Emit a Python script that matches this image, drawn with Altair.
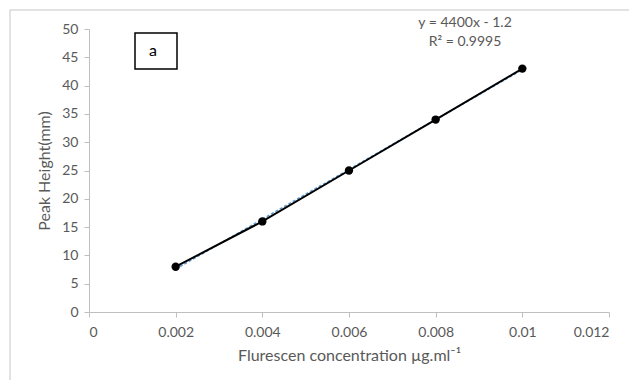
import altair as alt
import pandas as pd

conc = [0.002, 0.004, 0.006, 0.008, 0.01]
peak = [8, 16, 25, 34, 43]
x_ticks = [0, 0.002, 0.004, 0.006, 0.008, 0.01, 0.012]
y_ticks = [0, 5, 10, 15, 20, 25, 30, 35, 40, 45, 50]
eq_line1 = "y = 4400x - 1.2"
eq_line2 = "R² = 0.9995"

df = pd.DataFrame({"x": conc, "y": peak})
FONT = "Lato"
GRAY = "#595959"

xenc = alt.X("x:Q", scale=alt.Scale(domain=[0, 0.012]),
             axis=alt.Axis(values=x_ticks, title="Flurescen concentration µg.ml⁻¹",
                           labelExpr="datum.value == 0 ? '0' : format(datum.value, '')",
                           grid=False, domainColor="#bfbfbf", tickColor="#bfbfbf",
                           tickSize=5, labelPadding=8, titlePadding=8))
yenc = alt.Y("y:Q", scale=alt.Scale(domain=[0, 50]),
             axis=alt.Axis(values=y_ticks, title="Peak Height(mm)", grid=False,
                           domainColor="#bfbfbf", tickColor="#bfbfbf", tickSize=5,
                           labelPadding=6, titlePadding=9))

base = alt.Chart(df)
one = base.transform_filter("datum.x == 0.002")

frame = one.mark_rect(fill="transparent", stroke="#d9d9d9", strokeWidth=1.5).encode(
    x=alt.value(-79), x2=alt.value(580), y=alt.value(-19), y2=alt.value(400)
)

trend = base.mark_line(color="#5b9bd5", strokeDash=[3, 2], strokeWidth=1.5).encode(
    x=xenc, y=yenc
).transform_regression("x", "y", extent=[0.002, 0.01])

line = base.mark_line(color="black", strokeWidth=2).encode(x=xenc, y=yenc)
pts = base.mark_circle(color="black", size=70, opacity=1).encode(x=xenc, y=yenc)

box = one.mark_rect(fill="white", stroke="black", strokeWidth=1.5).encode(
    x=alt.value(46), x2=alt.value(88), y=alt.value(4), y2=alt.value(40)
)
box_text = one.mark_text(text="a", font=FONT, fontSize=16, color="black").encode(
    x=alt.value(64), y=alt.value(22)
)

eq1 = one.mark_text(text=eq_line1, font=FONT, fontSize=14, color=GRAY).encode(
    x=alt.value(376), y=alt.value(-6)
)
eq2 = one.mark_text(text=eq_line2, font=FONT, fontSize=14, color=GRAY).encode(
    x=alt.value(376), y=alt.value(13)
)

chart = alt.layer(frame, trend, line, pts, box, box_text, eq1, eq2).properties(
    width=520, height=283,
    autosize=alt.AutoSizeParams(type="none"),
    padding={"left": 81, "top": 21, "right": 20, "bottom": 68},
).configure_view(stroke=None).configure_axis(
    labelFont=FONT, titleFont=FONT, labelFontSize=14, titleFontSize=16,
    labelColor=GRAY, titleColor=GRAY, titleFontWeight="normal",
)

chart.save("out.html", embed_options={"renderer": "svg", "actions": False})
